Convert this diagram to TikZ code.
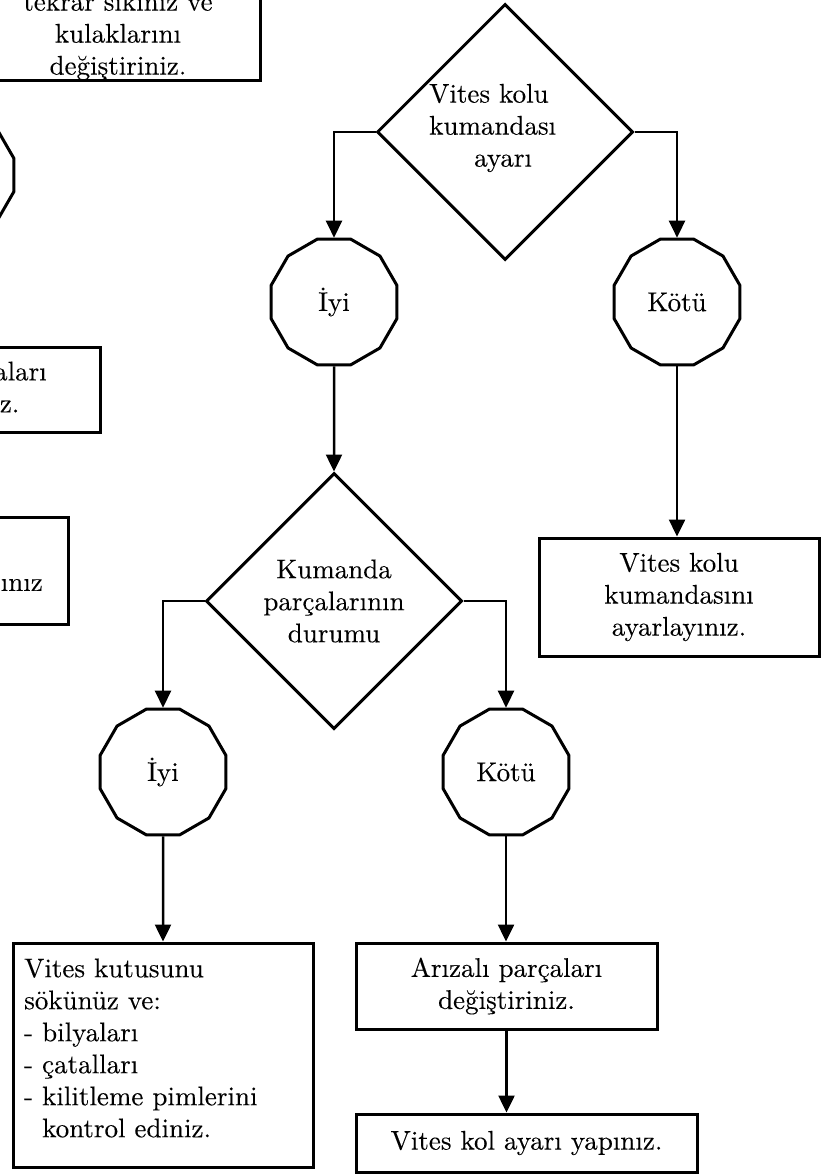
\documentclass[tikz,border=0pt]{standalone}
\usepackage{fontspec}
\setmainfont{lmroman10-regular.otf}[FakeBold=0.15]
\usetikzlibrary{shapes.geometric,arrows.meta}
\begin{document}
\begin{tikzpicture}[x=1pt,y=-1pt,
  every node/.style={font=\fontsize{27}{32}\selectfont, inner sep=0pt},
  decision/.style={draw, diamond, line width=3pt, minimum width=256pt, minimum height=256pt, align=center},
  octo/.style={draw, regular polygon, regular polygon sides=12, line width=3pt, minimum size=130pt},
  box/.style={draw, rectangle, line width=3pt, align=center},
  flow/.style={line width=2.5pt, -{Triangle[length=17pt,width=16pt]}},
]
\useasboundingbox (0,0) rectangle (830,1174);
\fill[white] (0,0) rectangle (830,1174);
\clip (0,0) rectangle (830,1174);

% left column, cut off by the page edge
\node[box, minimum width=284pt, minimum height=88pt] (b0) at (118,36) {tekrar sıkınız ve\\kulaklarını\\değiştiriniz.};
\node[octo] (c0) at (-49,175) {};
\node[box, minimum width=298pt, minimum height=85pt] (b5) at (-49,389.5) {Arızalı parçaları\\değiştiriniz.};
\node[box, minimum width=234pt, minimum height=107pt] (b6) at (-49,570.5) {};
\node[anchor=east] (b6t) at (43,585) {ınız};

% main flow
\node[decision] (d1) at (505,132) {};
\node[anchor=west, align=left] (d1t) at (429,128) {Vites kolu\\kumandası\\\hspace*{45pt}ayarı};
\node[octo] (iyi1) at (334,302) {İyi};
\node[octo] (kotu1) at (677,302) {Kötü};
\node[decision] (d2) at (334,601) {Kumanda\\parçalarının\\durumu};
\node[box, minimum width=280pt, minimum height=118pt] (b1) at (679,597) {Vites kolu\\kumandasını\\ayarlayınız.};
\node[octo] (iyi2) at (163,772) {İyi};
\node[octo] (kotu2) at (506,772) {Kötü};
\node[box, minimum width=300pt, minimum height=224pt] (b2) at (163,1055) {};
\node[anchor=west, align=left] (b2t) at (24,1048) {Vites kutusunu\\sökünüz ve:\\- bilyaları\\- çatalları\\- kilitleme pimlerini\\\hspace*{0.667em}kontrol ediniz.};
\node[box, minimum width=301pt, minimum height=86pt] (b3) at (506.5,986) {Arızalı parçaları\\değiştiriniz.};
\node[box, minimum width=341pt, minimum height=58pt] (b4) at (526.5,1143) {Vites kol ayarı yapınız.};

\draw[flow] (d1.west) -| (iyi1.north);
\draw[flow] (d1.east) -| (kotu1.north);
\draw[flow] (iyi1.south) -- (d2.north);
\draw[flow] (kotu1.south) -- (kotu1.south |- b1.north);
\draw[flow] (d2.west) -| (iyi2.north);
\draw[flow] (d2.east) -| (kotu2.north);
\draw[flow] (iyi2.south) -- (b2.north);
\draw[flow] (kotu2.south) -- (kotu2.south |- b3.north);
\draw[flow] (b3.south) -- (b3.south |- b4.north);
\end{tikzpicture}
\end{document}
